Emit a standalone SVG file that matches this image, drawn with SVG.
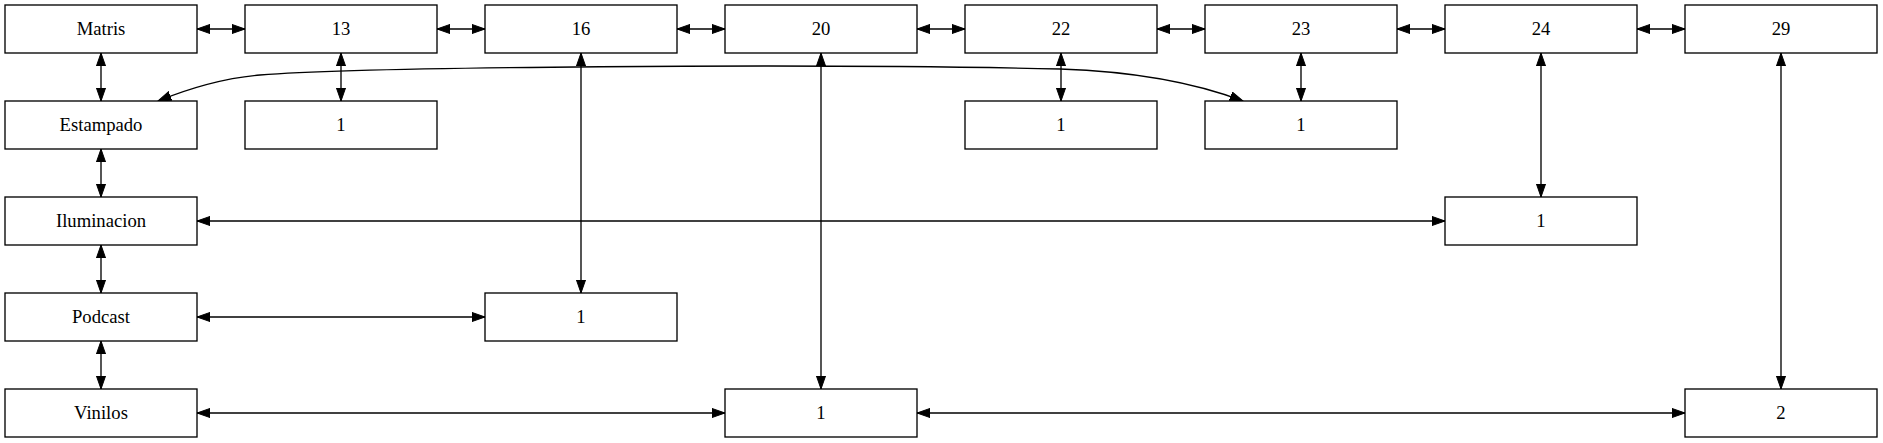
<svg xmlns="http://www.w3.org/2000/svg" width="1883" height="443" viewBox="0 0 1883 443">
<style>
.n rect{fill:#fff;stroke:#000;stroke-width:1.33}
.n text{font-family:'Liberation Serif','Times New Roman','DejaVu Serif',serif;font-size:18.67px;text-anchor:middle;fill:#000}
.e path,.e line{fill:none;stroke:#000;stroke-width:1.33;marker-start:url(#ah);marker-end:url(#ah)}
</style>
<defs>
<marker id="ah" markerWidth="14" markerHeight="10" refX="13.33" refY="4.67" orient="auto-start-reverse" markerUnits="userSpaceOnUse" viewBox="0 0 14 10"><path d="M0,0 L13.33,4.67 L0,9.33 z" fill="#000" stroke="#000" stroke-width="1"/></marker>
</defs>
<rect width="1883" height="443" fill="#fff"/>
<g class="e" id="connectors">
<line x1="197" y1="29" x2="245" y2="29"/>
<line x1="437" y1="29" x2="485" y2="29"/>
<line x1="677" y1="29" x2="725" y2="29"/>
<line x1="917" y1="29" x2="965" y2="29"/>
<line x1="1157" y1="29" x2="1205" y2="29"/>
<line x1="1397" y1="29" x2="1445" y2="29"/>
<line x1="1637" y1="29" x2="1685" y2="29"/>
<line x1="101" y1="53" x2="101" y2="101"/>
<line x1="101" y1="149" x2="101" y2="197"/>
<line x1="101" y1="245" x2="101" y2="293"/>
<line x1="101" y1="341" x2="101" y2="389"/>
<line x1="341" y1="53" x2="341" y2="101"/>
<line x1="1061" y1="53" x2="1061" y2="101"/>
<line x1="1301" y1="53" x2="1301" y2="101"/>
<line x1="1541" y1="53" x2="1541" y2="197"/>
<line x1="581" y1="53" x2="581" y2="293"/>
<line x1="821" y1="53" x2="821" y2="389"/>
<line x1="1781" y1="53" x2="1781" y2="389"/>
<line x1="197" y1="221" x2="1445" y2="221"/>
<line x1="197" y1="317" x2="485" y2="317"/>
<line x1="197" y1="413" x2="725" y2="413"/>
<line x1="917" y1="413" x2="1685" y2="413"/>
<path d="M158,101 C190,88 225,78 260,75 C360,67 800,63 1060,69 C1120,71 1185,79 1243,101"/>
</g>
<g class="n" font-family="Liberation Serif, serif" id="matris"><rect x="5" y="5" width="192" height="48"/><text x="101" y="34.6">Matris</text></g>
<g class="n" id="n13"><rect x="245" y="5" width="192" height="48"/><text x="341" y="34.6">13</text></g>
<g class="n" id="n16"><rect x="485" y="5" width="192" height="48"/><text x="581" y="34.6">16</text></g>
<g class="n" id="n20"><rect x="725" y="5" width="192" height="48"/><text x="821" y="34.6">20</text></g>
<g class="n" id="n22"><rect x="965" y="5" width="192" height="48"/><text x="1061" y="34.6">22</text></g>
<g class="n" id="n23"><rect x="1205" y="5" width="192" height="48"/><text x="1301" y="34.6">23</text></g>
<g class="n" id="n24"><rect x="1445" y="5" width="192" height="48"/><text x="1541" y="34.6">24</text></g>
<g class="n" id="n29"><rect x="1685" y="5" width="192" height="48"/><text x="1781" y="34.6">29</text></g>
<g class="n" id="estampado"><rect x="5" y="101" width="192" height="48"/><text x="101" y="130.6">Estampado</text></g>
<g class="n" id="n13_1"><rect x="245" y="101" width="192" height="48"/><text x="341" y="130.6">1</text></g>
<g class="n" id="n22_1"><rect x="965" y="101" width="192" height="48"/><text x="1061" y="130.6">1</text></g>
<g class="n" id="n23_1"><rect x="1205" y="101" width="192" height="48"/><text x="1301" y="130.6">1</text></g>
<g class="n" id="iluminacion"><rect x="5" y="197" width="192" height="48"/><text x="101" y="226.6">Iluminacion</text></g>
<g class="n" id="n24_1"><rect x="1445" y="197" width="192" height="48"/><text x="1541" y="226.6">1</text></g>
<g class="n" id="podcast"><rect x="5" y="293" width="192" height="48"/><text x="101" y="322.6">Podcast</text></g>
<g class="n" id="n16_1"><rect x="485" y="293" width="192" height="48"/><text x="581" y="322.6">1</text></g>
<g class="n" id="vinilos"><rect x="5" y="389" width="192" height="48"/><text x="101" y="418.6">Vinilos</text></g>
<g class="n" id="n20_1"><rect x="725" y="389" width="192" height="48"/><text x="821" y="418.6">1</text></g>
<g class="n" id="n29_2"><rect x="1685" y="389" width="192" height="48"/><text x="1781" y="418.6">2</text></g>
</svg>
